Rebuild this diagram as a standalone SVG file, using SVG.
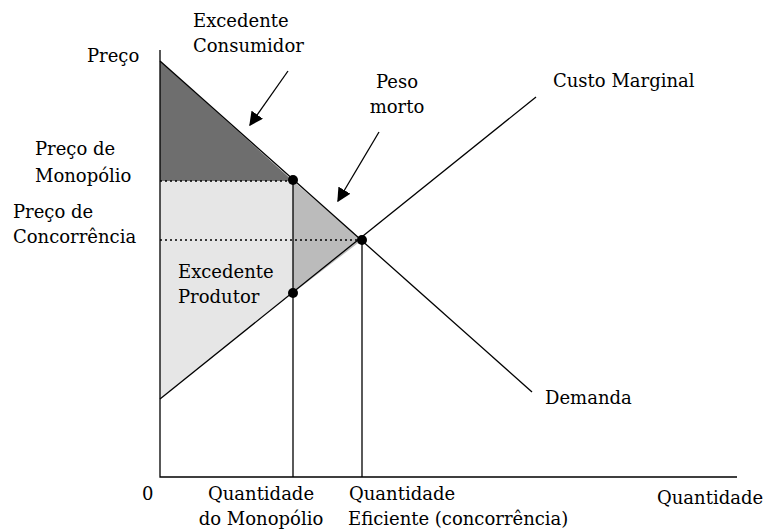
<svg xmlns="http://www.w3.org/2000/svg" width="768" height="532" viewBox="0 0 768 532">
<defs>
<style>
text{font-family:"DejaVu Serif","Liberation Serif",serif;font-size:18px;fill:#000}
.ax{stroke:#000;stroke-width:1.3;fill:none}
.ln{stroke:#000;stroke-width:1.3;fill:none}
.dot{stroke:#000;stroke-width:1.3;stroke-dasharray:2 3;fill:none}
.pt{fill:#000}
.arr{stroke:#000;stroke-width:1.3;fill:none;marker-end:url(#ah)}
</style>
<marker id="ah" viewBox="0 0 10 10" refX="9" refY="5" markerWidth="14" markerHeight="14" markerUnits="userSpaceOnUse" orient="auto">
<path d="M0,0 L10,5 L0,10 z" fill="#000"/>
</marker>
</defs>
<rect width="768" height="532" fill="#fff"/>
<g id="areas">
<polygon points="160,61 293,181 160,181" fill="#6e6e6e"/>
<polygon points="160,181 293,181 293,293 160,399" fill="#e6e6e6"/>
<polygon points="293,181 362,240 293,293" fill="#bbbbbb"/>
</g>
<g id="connectors">
<polyline class="ax" points="160,50 160,477 737,477"/>
<line class="ln" x1="160" y1="61" x2="532" y2="392"/>
<line class="ln" x1="160" y1="399" x2="536" y2="97"/>
<line class="dot" x1="160" y1="181" x2="293" y2="181"/>
<line class="dot" x1="160" y1="240" x2="362" y2="240"/>
<line class="ln" x1="293" y1="181" x2="293" y2="477"/>
<line class="ln" x1="362" y1="240" x2="362" y2="477"/>
<line class="arr" x1="288" y1="71" x2="250" y2="125"/>
<line class="arr" x1="379" y1="132" x2="338" y2="201"/>
</g>
<g id="points">
<circle class="pt" cx="293" cy="180" r="5"/>
<circle class="pt" cx="293" cy="293" r="5"/>
<circle class="pt" cx="362" cy="240" r="5"/>
</g>
<g id="labels">
<text x="87" y="62">Preço</text>
<text x="193" y="27">Excedente</text>
<text x="193" y="52">Consumidor</text>
<text x="397" y="88" text-anchor="middle">Peso</text>
<text x="397" y="113" text-anchor="middle">morto</text>
<text x="553" y="87">Custo Marginal</text>
<text x="35" y="155">Preço de</text>
<text x="35" y="182">Monopólio</text>
<text x="13" y="218">Preço de</text>
<text x="13" y="243">Concorrência</text>
<text x="178" y="278">Excedente</text>
<text x="178" y="303">Produtor</text>
<text x="545" y="404">Demanda</text>
<text x="142" y="500">0</text>
<text x="261" y="500" text-anchor="middle">Quantidade</text>
<text x="261" y="525" text-anchor="middle">do Monopólio</text>
<text x="349" y="500">Quantidade</text>
<text x="348" y="525">Eficiente (concorrência)</text>
<text x="657" y="504">Quantidade</text>
</g>
</svg>
